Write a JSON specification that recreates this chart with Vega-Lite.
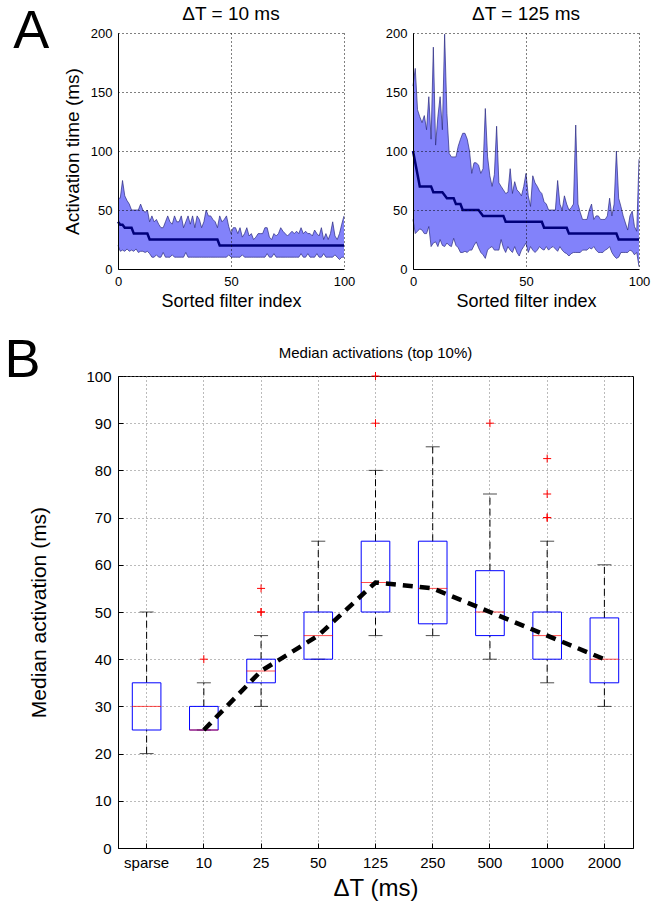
{
  "$schema": "https://vega.github.io/schema/vega-lite/v6.json",
  "background": "white",
  "padding": {"left": 4, "top": 5, "right": 5, "bottom": 5},
  "config": {
    "font": "Liberation Sans",
    "view": {"stroke": null},
    "title": {"fontWeight": "normal", "color": "black", "font": "Liberation Sans"},
    "axis": {
      "labelColor": "black", "titleColor": "black", "titleFontWeight": "normal",
      "domainColor": "black", "tickColor": "black", "gridColor": "black",
      "gridDash": [1, 3], "labelFont": "Liberation Sans", "titleFont": "Liberation Sans"
    }
  },
  "datasets": {
    "a10": [
      {"x":0,"hi":60,"lo":20,"med":40},{"x":1,"hi":60,"lo":15,"med":37.5},{"x":2,"hi":75,"lo":16,"med":37.5},{"x":3,"hi":62,"lo":15,"med":35},{"x":4,"hi":58,"lo":17,"med":35},{"x":5,"hi":55,"lo":15,"med":35},{"x":6,"hi":50,"lo":16,"med":35},{"x":7,"hi":50,"lo":15,"med":30},{"x":8,"hi":50,"lo":17,"med":30},{"x":9,"hi":50,"lo":14,"med":30},
      {"x":10,"hi":55,"lo":15,"med":30},{"x":11,"hi":50,"lo":15,"med":30},{"x":12,"hi":48,"lo":14,"med":30},{"x":13,"hi":50,"lo":15,"med":30},{"x":14,"hi":40,"lo":13,"med":25},{"x":15,"hi":45,"lo":10,"med":25},{"x":16,"hi":40,"lo":10,"med":25},{"x":17,"hi":42,"lo":12,"med":25},{"x":18,"hi":38,"lo":10,"med":25},{"x":19,"hi":35,"lo":10,"med":25},
      {"x":20,"hi":35,"lo":14,"med":25},{"x":21,"hi":40,"lo":10,"med":25},{"x":22,"hi":45,"lo":10,"med":25},{"x":23,"hi":40,"lo":10,"med":25},{"x":24,"hi":38,"lo":12,"med":25},{"x":25,"hi":45,"lo":10,"med":25},{"x":26,"hi":40,"lo":10,"med":25},{"x":27,"hi":40,"lo":10,"med":25},{"x":28,"hi":45,"lo":10,"med":25},{"x":29,"hi":35,"lo":10,"med":25},
      {"x":30,"hi":40,"lo":14,"med":25},{"x":31,"hi":45,"lo":10,"med":25},{"x":32,"hi":38,"lo":10,"med":25},{"x":33,"hi":45,"lo":10,"med":25},{"x":34,"hi":35,"lo":10,"med":25},{"x":35,"hi":45,"lo":10,"med":25},{"x":36,"hi":42,"lo":10,"med":25},{"x":37,"hi":35,"lo":10,"med":25},{"x":38,"hi":40,"lo":10,"med":25},{"x":39,"hi":50,"lo":10,"med":25},
      {"x":40,"hi":45,"lo":10,"med":25},{"x":41,"hi":45,"lo":10,"med":25},{"x":42,"hi":42,"lo":10,"med":25},{"x":43,"hi":40,"lo":10,"med":25},{"x":44,"hi":35,"lo":10,"med":25},{"x":45,"hi":45,"lo":10,"med":20},{"x":46,"hi":40,"lo":10,"med":20},{"x":47,"hi":42,"lo":10,"med":20},{"x":48,"hi":45,"lo":10,"med":20},{"x":49,"hi":36,"lo":12,"med":20},
      {"x":50,"hi":30,"lo":10,"med":20},{"x":51,"hi":35,"lo":10,"med":20},{"x":52,"hi":35,"lo":10,"med":20},{"x":53,"hi":30,"lo":10,"med":20},{"x":54,"hi":35,"lo":10,"med":20},{"x":55,"hi":27,"lo":12,"med":20},{"x":56,"hi":30,"lo":10,"med":20},{"x":57,"hi":35,"lo":10,"med":20},{"x":58,"hi":28,"lo":10,"med":20},{"x":59,"hi":30,"lo":10,"med":20},
      {"x":60,"hi":25,"lo":10,"med":20},{"x":61,"hi":27,"lo":10,"med":20},{"x":62,"hi":30,"lo":10,"med":20},{"x":63,"hi":30,"lo":10,"med":20},{"x":64,"hi":30,"lo":10,"med":20},{"x":65,"hi":35,"lo":10,"med":20},{"x":66,"hi":35,"lo":13,"med":20},{"x":67,"hi":27,"lo":10,"med":20},{"x":68,"hi":25,"lo":10,"med":20},{"x":69,"hi":30,"lo":13,"med":20},
      {"x":70,"hi":28,"lo":10,"med":20},{"x":71,"hi":30,"lo":10,"med":20},{"x":72,"hi":35,"lo":10,"med":20},{"x":73,"hi":32,"lo":10,"med":20},{"x":74,"hi":30,"lo":10,"med":20},{"x":75,"hi":28,"lo":10,"med":20},{"x":76,"hi":30,"lo":10,"med":20},{"x":77,"hi":32,"lo":10,"med":20},{"x":78,"hi":30,"lo":10,"med":20},{"x":79,"hi":32,"lo":10,"med":20},
      {"x":80,"hi":30,"lo":10,"med":20},{"x":81,"hi":35,"lo":13,"med":20},{"x":82,"hi":30,"lo":10,"med":20},{"x":83,"hi":32,"lo":10,"med":20},{"x":84,"hi":30,"lo":13,"med":20},{"x":85,"hi":30,"lo":10,"med":20},{"x":86,"hi":28,"lo":10,"med":20},{"x":87,"hi":33,"lo":10,"med":20},{"x":88,"hi":30,"lo":13,"med":20},{"x":89,"hi":28,"lo":10,"med":20},
      {"x":90,"hi":35,"lo":10,"med":20},{"x":91,"hi":25,"lo":13,"med":20},{"x":92,"hi":30,"lo":10,"med":20},{"x":93,"hi":25,"lo":10,"med":20},{"x":94,"hi":30,"lo":10,"med":20},{"x":95,"hi":40,"lo":10,"med":20},{"x":96,"hi":28,"lo":12,"med":20},{"x":97,"hi":25,"lo":10,"med":20},{"x":98,"hi":30,"lo":8,"med":20},{"x":99,"hi":38,"lo":10,"med":20},
      {"x":100,"hi":45,"lo":10,"med":20}
    ],
    "a125": [
      {"x":0,"hi":155,"lo":42,"med":100},{"x":1,"hi":170,"lo":30,"med":90},{"x":2,"hi":135,"lo":32,"med":80},{"x":3,"hi":129,"lo":34,"med":70},{"x":4,"hi":124,"lo":33,"med":70},{"x":5,"hi":130,"lo":30,"med":70},{"x":6,"hi":118,"lo":30,"med":70},{"x":7,"hi":146,"lo":36,"med":70},{"x":8,"hi":110,"lo":19,"med":70},{"x":9,"hi":188,"lo":22,"med":65},
      {"x":10,"hi":105,"lo":23,"med":65},{"x":11,"hi":129,"lo":19,"med":65},{"x":12,"hi":146,"lo":25,"med":65},{"x":13,"hi":118,"lo":20,"med":65},{"x":14,"hi":199,"lo":19,"med":62.5},{"x":15,"hi":132,"lo":22,"med":60},{"x":16,"hi":98,"lo":20,"med":60},{"x":17,"hi":95,"lo":19,"med":60},{"x":18,"hi":95,"lo":26,"med":60},{"x":19,"hi":95,"lo":20,"med":55},
      {"x":20,"hi":104,"lo":18,"med":55},{"x":21,"hi":110,"lo":14,"med":55},{"x":22,"hi":115,"lo":14,"med":50},{"x":23,"hi":115,"lo":15,"med":50},{"x":24,"hi":110,"lo":14,"med":50},{"x":25,"hi":100,"lo":16,"med":50},{"x":26,"hi":81,"lo":16,"med":50},{"x":27,"hi":90,"lo":20,"med":50},{"x":28,"hi":90,"lo":23,"med":50},{"x":29,"hi":88,"lo":18,"med":50},
      {"x":30,"hi":81,"lo":14,"med":47.5},{"x":31,"hi":85,"lo":12,"med":45},{"x":32,"hi":136,"lo":9,"med":45},{"x":33,"hi":95,"lo":16,"med":45},{"x":34,"hi":79,"lo":18,"med":45},{"x":35,"hi":70,"lo":19,"med":45},{"x":36,"hi":80,"lo":16,"med":45},{"x":37,"hi":121,"lo":16,"med":45},{"x":38,"hi":73,"lo":16,"med":45},{"x":39,"hi":70,"lo":25,"med":45},
      {"x":40,"hi":67,"lo":18,"med":45},{"x":41,"hi":64,"lo":14,"med":40},{"x":42,"hi":65,"lo":19,"med":40},{"x":43,"hi":85,"lo":16,"med":40},{"x":44,"hi":64,"lo":14,"med":40},{"x":45,"hi":74,"lo":19,"med":40},{"x":46,"hi":67,"lo":14,"med":40},{"x":47,"hi":65,"lo":11,"med":40},{"x":48,"hi":62,"lo":16,"med":40},{"x":49,"hi":70,"lo":19,"med":40},
      {"x":50,"hi":81,"lo":22,"med":40},{"x":51,"hi":62,"lo":14,"med":40},{"x":52,"hi":53,"lo":19,"med":40},{"x":53,"hi":79,"lo":16,"med":40},{"x":54,"hi":73,"lo":14,"med":40},{"x":55,"hi":70,"lo":16,"med":40},{"x":56,"hi":66,"lo":19,"med":40},{"x":57,"hi":64,"lo":17,"med":40},{"x":58,"hi":57,"lo":16,"med":35},{"x":59,"hi":55,"lo":19,"med":35},
      {"x":60,"hi":50,"lo":16,"med":35},{"x":61,"hi":50,"lo":18,"med":35},{"x":62,"hi":50,"lo":19,"med":35},{"x":63,"hi":50,"lo":17,"med":35},{"x":64,"hi":75,"lo":15,"med":35},{"x":65,"hi":55,"lo":19,"med":35},{"x":66,"hi":50,"lo":16,"med":35},{"x":67,"hi":62,"lo":14,"med":35},{"x":68,"hi":55,"lo":13,"med":35},{"x":69,"hi":50,"lo":11,"med":30},
      {"x":70,"hi":52,"lo":13,"med":30},{"x":71,"hi":55,"lo":14,"med":30},{"x":72,"hi":122,"lo":14,"med":30},{"x":73,"hi":55,"lo":14,"med":30},{"x":74,"hi":48,"lo":14,"med":30},{"x":75,"hi":42,"lo":16,"med":30},{"x":76,"hi":42,"lo":16,"med":30},{"x":77,"hi":42,"lo":16,"med":30},{"x":78,"hi":50,"lo":18,"med":30},{"x":79,"hi":55,"lo":17,"med":30},
      {"x":80,"hi":42,"lo":19,"med":30},{"x":81,"hi":45,"lo":16,"med":30},{"x":82,"hi":45,"lo":14,"med":30},{"x":83,"hi":42,"lo":14,"med":30},{"x":84,"hi":42,"lo":14,"med":30},{"x":85,"hi":42,"lo":16,"med":30},{"x":86,"hi":45,"lo":17,"med":30},{"x":87,"hi":60,"lo":19,"med":30},{"x":88,"hi":45,"lo":14,"med":30},{"x":89,"hi":55,"lo":11,"med":30},
      {"x":90,"hi":100,"lo":9,"med":30},{"x":91,"hi":60,"lo":10,"med":25},{"x":92,"hi":53,"lo":14,"med":25},{"x":93,"hi":45,"lo":14,"med":25},{"x":94,"hi":39,"lo":14,"med":25},{"x":95,"hi":33,"lo":14,"med":25},{"x":96,"hi":45,"lo":16,"med":25},{"x":97,"hi":49,"lo":15,"med":25},{"x":98,"hi":36,"lo":12,"med":25},{"x":99,"hi":32,"lo":14,"med":25},
      {"x":100,"hi":93,"lo":2,"med":25}
    ],
    "boxes": [
      {"cat":"sparse","lo":20,"q1":25,"med":30,"q3":35,"hi":50},
      {"cat":"10","lo":25,"q1":25,"med":25,"q3":30,"hi":35},
      {"cat":"25","lo":30,"q1":35,"med":37.5,"q3":40,"hi":45},
      {"cat":"50","lo":40,"q1":40,"med":45,"q3":50,"hi":65},
      {"cat":"125","lo":45,"q1":50,"med":56.25,"q3":65,"hi":80},
      {"cat":"250","lo":45,"q1":47.5,"med":55,"q3":65,"hi":85},
      {"cat":"500","lo":40,"q1":45,"med":50,"q3":58.75,"hi":75},
      {"cat":"1000","lo":35,"q1":40,"med":45,"q3":50,"hi":65},
      {"cat":"2000","lo":30,"q1":35,"med":40,"q3":48.75,"hi":60}
    ],
    "outliers": [
      {"cat":"10","v":40},
      {"cat":"25","v":50},{"cat":"25","v":50},{"cat":"25","v":55},
      {"cat":"125","v":90},{"cat":"125","v":100},
      {"cat":"500","v":90},
      {"cat":"1000","v":70},{"cat":"1000","v":70},{"cat":"1000","v":75},{"cat":"1000","v":82.5}
    ],
    "trend": [
      {"cat":"10","m":25},{"cat":"25","m":37.5},{"cat":"50","m":45},{"cat":"125","m":56.25},
      {"cat":"250","m":55},{"cat":"500","m":50},{"cat":"1000","m":45},{"cat":"2000","m":40}
    ]
  },
  "spacing": 23,
  "vconcat": [
    {
      "title": {"text": "A", "orient": "left", "angle": 0, "anchor": "end", "fontSize": 54, "fontWeight": "normal", "baseline": "top", "offset": -22},
      "spacing": 30,
      "hconcat": [
        {
          "width": 226, "height": 236,
          "data": {"name": "a10"},
          "title": {"text": "ΔT = 10 ms", "fontSize": 19, "fontWeight": "normal", "offset": 3},
          "encoding": {
            "x": {"field": "x", "type": "quantitative", "scale": {"domain": [0, 100], "nice": false},
                  "axis": {"values": [0, 50, 100], "title": "Sorted filter index", "titleFontSize": 18, "labelFontSize": 13, "tickSize": 0, "labelPadding": 6, "titlePadding": 4, "zindex": 1, "labelFlush": false}}
          },
          "layer": [
            {"mark": {"type": "area", "color": "#8282fa", "opacity": 1},
             "encoding": {"y": {"field": "lo", "type": "quantitative", "scale": {"domain": [0, 200], "nice": false},
                   "axis": {"values": [0, 50, 100, 150, 200], "title": "Activation time (ms)", "titleFontSize": 19, "labelFontSize": 13, "tickSize": 0, "labelPadding": 6, "titlePadding": 8, "zindex": 1}},
                   "y2": {"field": "hi"}}},
            {"mark": {"type": "line", "color": "#2a2a80", "strokeWidth": 0.7}, "encoding": {"y": {"field": "hi", "type": "quantitative"}}},
            {"mark": {"type": "line", "color": "#2a2a80", "strokeWidth": 0.7}, "encoding": {"y": {"field": "lo", "type": "quantitative"}}},
            {"mark": {"type": "line", "color": "#00007a", "strokeWidth": 2.5}, "encoding": {"y": {"field": "med", "type": "quantitative"}}}
          ]
        },
        {
          "width": 226, "height": 236,
          "data": {"name": "a125"},
          "title": {"text": "ΔT = 125 ms", "fontSize": 19, "fontWeight": "normal", "offset": 3},
          "encoding": {
            "x": {"field": "x", "type": "quantitative", "scale": {"domain": [0, 100], "nice": false},
                  "axis": {"values": [0, 50, 100], "title": "Sorted filter index", "titleFontSize": 18, "labelFontSize": 13, "tickSize": 0, "labelPadding": 6, "titlePadding": 4, "zindex": 1, "labelFlush": false}}
          },
          "layer": [
            {"mark": {"type": "area", "color": "#8282fa", "opacity": 1},
             "encoding": {"y": {"field": "lo", "type": "quantitative", "scale": {"domain": [0, 200], "nice": false},
                   "axis": {"values": [0, 50, 100, 150, 200], "title": null, "labelFontSize": 13, "tickSize": 0, "labelPadding": 6, "zindex": 1}},
                   "y2": {"field": "hi"}}},
            {"mark": {"type": "line", "color": "#2a2a80", "strokeWidth": 0.7}, "encoding": {"y": {"field": "hi", "type": "quantitative"}}},
            {"mark": {"type": "line", "color": "#2a2a80", "strokeWidth": 0.7}, "encoding": {"y": {"field": "lo", "type": "quantitative"}}},
            {"mark": {"type": "line", "color": "#00007a", "strokeWidth": 2.5}, "encoding": {"y": {"field": "med", "type": "quantitative"}}}
          ]
        }
      ]
    },
    {
      "title": {"text": "B", "orient": "left", "angle": 0, "anchor": "end", "fontSize": 54, "fontWeight": "normal", "baseline": "top", "offset": -48, "dy": -12},
      "vconcat": [
        {
          "width": 515, "height": 472,
          "title": {"text": "Median activations (top 10%)", "fontSize": 15, "fontWeight": "normal", "offset": 8},
          "view": {"stroke": "black", "strokeWidth": 1},
          "encoding": {
            "x": {"field": "cat", "type": "nominal", "sort": ["sparse","10","25","50","125","250","500","1000","2000"],
                  "scale": {"type": "band", "paddingInner": 0, "paddingOuter": 0},
                  "axis": {"title": "ΔT (ms)", "titleFontSize": 24, "labelFontSize": 15, "labelAngle": 0, "grid": true, "gridColor": "#777777", "tickSize": -5, "labelPadding": 12, "titlePadding": 6, "domain": true}}
          },
          "layer": [
            {"data": {"name": "boxes"}, "mark": {"type": "rule", "color": "black", "strokeDash": [7, 4], "strokeWidth": 1},
             "encoding": {"y": {"field": "q3", "type": "quantitative", "scale": {"domain": [0, 100], "nice": false},
                 "axis": {"values": [0,10,20,30,40,50,60,70,80,90,100], "title": "Median activation (ms)", "titleFontSize": 21, "labelFontSize": 15, "gridColor": "#777777", "tickSize": -5, "labelPadding": 12, "titlePadding": 36}},
                 "y2": {"field": "hi"}}},
            {"data": {"name": "boxes"}, "mark": {"type": "rule", "color": "black", "strokeDash": [7, 4], "strokeWidth": 1},
             "encoding": {"y": {"field": "lo", "type": "quantitative"}, "y2": {"field": "q1"}}},
            {"data": {"name": "boxes"}, "mark": {"type": "tick", "color": "black", "size": 14, "thickness": 1},
             "encoding": {"y": {"field": "hi", "type": "quantitative"}}},
            {"data": {"name": "boxes"}, "mark": {"type": "tick", "color": "black", "size": 14, "thickness": 1},
             "encoding": {"y": {"field": "lo", "type": "quantitative"}}},
            {"data": {"name": "boxes"}, "mark": {"type": "bar", "width": {"band": 0.5}, "fillOpacity": 0, "fill": "white", "stroke": "#0000ff", "strokeWidth": 1},
             "encoding": {"y": {"field": "q1", "type": "quantitative"}, "y2": {"field": "q3"}}},
            {"data": {"name": "boxes"}, "mark": {"type": "tick", "color": "#ff0000", "size": 29, "thickness": 1},
             "encoding": {"y": {"field": "med", "type": "quantitative"}}},
            {"data": {"name": "outliers"}, "mark": {"type": "point", "shape": "M-1,0L1,0M0,-1L0,1", "size": 64, "filled": false, "stroke": "#ff0000", "strokeWidth": 1, "opacity": 1},
             "encoding": {"y": {"field": "v", "type": "quantitative"}}},
            {"data": {"name": "trend"}, "mark": {"type": "line", "color": "black", "strokeWidth": 4.5, "strokeDash": [10, 7]},
             "encoding": {"y": {"field": "m", "type": "quantitative"}}}
          ]
        }
      ]
    }
  ]
}
